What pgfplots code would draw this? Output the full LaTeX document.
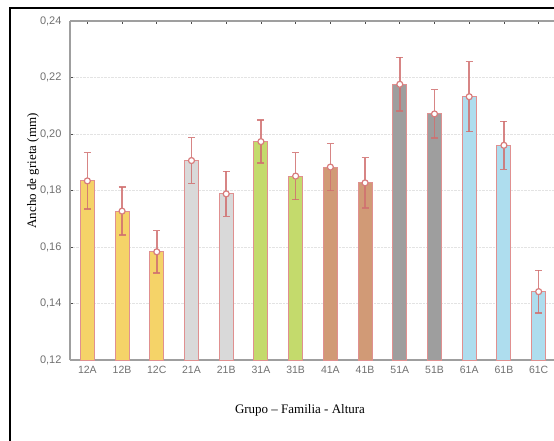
\documentclass[border=0pt]{standalone}
\usepackage{pgfplots}
\pgfplotsset{compat=1.18}
\usepackage{fontspec}
\setmainfont{Liberation Serif}
\newfontfamily\arialf{Liberation Sans}
\definecolor{cYel}{HTML}{F5D368}
\definecolor{cLgr}{HTML}{D9D9D9}
\definecolor{cGrn}{HTML}{C4DA6C}
\definecolor{cBrn}{HTML}{D19A76}
\definecolor{cDgr}{HTML}{9E9E9E}
\definecolor{cBlu}{HTML}{AEDDEE}
\definecolor{cEdge}{HTML}{E09090}
\definecolor{cErr}{HTML}{D07070}
\definecolor{cMark}{HTML}{D87C7C}
\definecolor{cTick}{HTML}{707070}
\pgfplotstableread{
x y err
0 0.1834 0.0100
1 0.1727 0.0085
2 0.1583 0.0075
3 0.1906 0.0081
4 0.1788 0.0080
5 0.1973 0.0076
6 0.1851 0.0083
7 0.1883 0.0083
8 0.1827 0.0089
9 0.2176 0.0095
10 0.2071 0.0086
11 0.2132 0.0124
12 0.1960 0.0085
13 0.1442 0.0075
}\datatab
\begin{document}
\begin{tikzpicture}[x=1pt,y=1pt]
\clip (0,0) rectangle (554,440);
\draw[line width=1.4pt] (10,-10) -- (10,432) -- (600,432);
\begin{axis}[
  at={(70pt,80pt)}, anchor=south west,
  scale only axis, width=486pt, height=339pt,
  xmin=-0.5, xmax=13.5, ymin=0.12, ymax=0.24,
  axis x line*=box, axis y line*=left,
  y axis line style={-},
  axis line style={draw=gray!75, line width=1.1pt},
  xtick={0,...,13},
  xticklabels={12A,12B,12C,21A,21B,31A,31B,41A,41B,51A,51B,61A,61B,61C},
  ytick={0.12,0.14,...,0.241},
  tick style={draw=black!70, line width=0.6pt},
  major tick length=3pt,
  tick align=inside,
  ymajorgrids,
  grid style={densely dotted, gray!22, line width=0.6pt},
  /pgf/number format/assume math mode=true,
  /pgf/number format/use comma,
  /pgf/number format/fixed,
  /pgf/number format/fixed zerofill,
  /pgf/number format/precision=2,
  yticklabel style={font=\arialf\fontsize{11}{11}\selectfont, text=cTick, xshift=-5pt},
  xticklabel style={font=\arialf\fontsize{10.5}{10.5}\selectfont, text=cTick, yshift=-3pt},
  clip=false,
  bstyle/.style={ybar, bar width=14pt, bar shift=0pt, draw=cEdge, line width=1pt},
]
\addplot[bstyle, fill=cYel] coordinates {(0,0.1834) (1,0.1727) (2,0.1583)};
\addplot[bstyle, fill=cLgr] coordinates {(3,0.1906) (4,0.1788)};
\addplot[bstyle, fill=cGrn] coordinates {(5,0.1973) (6,0.1851)};
\addplot[bstyle, fill=cBrn] coordinates {(7,0.1883) (8,0.1827)};
\addplot[bstyle, fill=cDgr] coordinates {(9,0.2176) (10,0.2071)};
\addplot[bstyle, fill=cBlu] coordinates {(11,0.2132) (12,0.1960) (13,0.1442)};
\addplot[draw=none, mark=none, forget plot,
  error bars/.cd, y dir=both, y explicit,
  error bar style={color=cErr, line width=1.5pt, opacity=0.85},
  error mark options={rotate=90, color=cErr, mark size=3.5pt, line width=1.5pt, opacity=0.85}]
  table[x=x, y=y, y error=err] {\datatab};
\addplot[only marks, mark=*, mark size=3pt,
  mark options={fill=white, draw=cMark, line width=1.2pt}]
  table[x=x, y=y] {\datatab};
\end{axis}
\node[rotate=90, font=\fontsize{13}{13}\selectfont] at (33,269) {Ancho de grieta (mm)};
\node[font=\fontsize{13}{13}\selectfont] at (300,30) {Grupo – Familia - Altura};
\end{tikzpicture}
\end{document}
